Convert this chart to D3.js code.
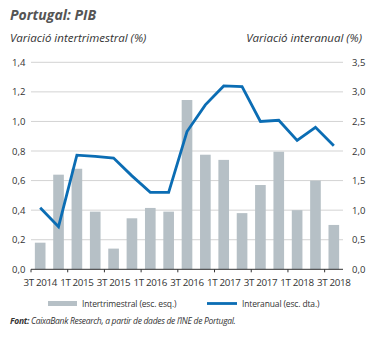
<!DOCTYPE html>
<html>
<head>
<meta charset="utf-8">
<script src="https://cdn.jsdelivr.net/npm/d3@7"></script>
<style>
  body { margin: 0; background: #fff; }
  svg text { font-family: "Open Sans", "Noto Sans", sans-serif; fill: #333; }
</style>
</head>
<body>
<div id="chart"></div>
<script>
// quarters on the x axis
const quarters = ["3T 2014", "4T 2014", "1T 2015", "2T 2015", "3T 2015", "4T 2015",
  "1T 2016", "2T 2016", "3T 2016", "4T 2016", "1T 2017", "2T 2017", "3T 2017",
  "4T 2017", "1T 2018", "2T 2018", "3T 2018"]
// bars, left axis
const intertrimestral = [0.18, 0.64, 0.68, 0.39, 0.14, 0.345, 0.415, 0.39, 1.145,
  0.775, 0.74, 0.38, 0.57, 0.795, 0.40, 0.60, 0.30]
// line, right axis
const interanual = [1.04, 0.72, 1.93, 1.91, 1.88, 1.58, 1.30, 1.30, 2.33,
  2.78, 3.10, 3.09, 2.50, 2.52, 2.18, 2.40, 2.09]
const leftTicks = [0, 0.2, 0.4, 0.6, 0.8, 1.0, 1.2, 1.4]
const rightTicks = [0, 0.5, 1.0, 1.5, 2.0, 2.5, 3.0, 3.5]
const labelled = ["3T 2014", "1T 2015", "3T 2015", "1T 2016", "3T 2016",
  "1T 2017", "3T 2017", "1T 2018", "3T 2018"]

const W = 379, H = 338
const plot = {left: 31, right: 343, top: 62.3, bottom: 269.3}

const svg = d3.select("#chart").append("svg")
  .attr("width", W).attr("height", H)

const fmt = v => v.toFixed(1).replace(".", ",")

const x = d3.scaleBand().domain(quarters)
  .range([plot.left, plot.right]).paddingInner(0.42).paddingOuter(0.21)
const yL = d3.scaleLinear().domain([0, 1.4]).range([plot.bottom, plot.top])
const yR = d3.scaleLinear().domain([0, 3.5]).range([plot.bottom, plot.top])

// title + axis titles
svg.append("text").attr("x", 10).attr("y", 20)
  .style("font-size", "14px").style("font-weight", "bold").style("font-style", "italic")
  .style("fill", "#555").text("Portugal: PIB")
svg.append("text").attr("x", 10).attr("y", 42)
  .style("font-size", "11.5px").style("font-style", "italic")
  .text("Variació intertrimestral (%)")
svg.append("text").attr("x", 362).attr("y", 42).attr("text-anchor", "end")
  .style("font-size", "11.5px").style("font-style", "italic")
  .text("Variació interanual (%)")

// gridlines
svg.append("g").selectAll("line").data(leftTicks.slice(1)).enter().append("line")
  .attr("x1", plot.left).attr("x2", plot.right)
  .attr("y1", d => yL(d)).attr("y2", d => yL(d))
  .style("stroke", "#d3d3d3").style("stroke-width", 1)

// left labels
svg.append("g").selectAll("text").data(leftTicks).enter().append("text")
  .attr("x", 12).attr("y", d => yL(d) + 3.5)
  .style("font-size", "9.5px").text(fmt)
// right labels
svg.append("g").selectAll("text").data(rightTicks).enter().append("text")
  .attr("x", 352).attr("y", d => yR(d) + 3.5)
  .style("font-size", "9.5px").text(fmt)

// bars
svg.append("g").selectAll("rect").data(intertrimestral).enter().append("rect")
  .attr("x", (d, i) => x(quarters[i]))
  .attr("width", x.bandwidth())
  .attr("y", d => yL(d))
  .attr("height", d => yL(0) - yL(d))
  .style("fill", "#b6c0c6")

// x axis
const xAxis = svg.append("g").attr("transform", `translate(0,${plot.bottom})`)
xAxis.append("line").attr("x1", plot.left).attr("x2", plot.right)
  .style("stroke", "#333").style("stroke-width", 1)
xAxis.selectAll(".tk").data(labelled).enter().append("line")
  .attr("x1", d => x(d) - x.step() * x.paddingInner() / 2)
  .attr("x2", d => x(d) - x.step() * x.paddingInner() / 2)
  .attr("y1", 0).attr("y2", 3)
  .style("stroke", "#333")
xAxis.selectAll("text").data(labelled).enter().append("text")
  .attr("x", d => x(d) + x.bandwidth() / 2).attr("y", 17)
  .attr("text-anchor", "middle")
  .style("font-size", "9.8px").style("letter-spacing", "-0.35px").text(d => d)

// line
const line = d3.line()
  .x((d, i) => x(quarters[i]) + x.bandwidth() / 2)
  .y(d => yR(d))
svg.append("path").datum(interanual)
  .attr("d", line)
  .style("fill", "none").style("stroke", "#0b6db4").style("stroke-width", 2.8)
  .style("stroke-linejoin", "miter")

// legend
svg.append("rect").attr("x", 48).attr("y", 301).attr("width", 29).attr("height", 5)
  .style("fill", "#b6c0c6")
svg.append("text").attr("x", 82).attr("y", 306.5)
  .style("font-size", "8.5px").style("letter-spacing", "-0.15px").text("Intertrimestral (esc. esq.)")
svg.append("line").attr("x1", 207).attr("x2", 237).attr("y1", 303.5).attr("y2", 303.5)
  .style("stroke", "#0b6db4").style("stroke-width", 2.8)
svg.append("text").attr("x", 242).attr("y", 306.5)
  .style("font-size", "8.5px").style("letter-spacing", "-0.15px").text("Interanual (esc. dta.)")

// source
const src = svg.append("text").attr("x", 10).attr("y", 324)
  .style("font-size", "8.5px").style("font-style", "italic").style("letter-spacing", "-0.3px")
src.append("tspan").style("font-weight", "bold").text("Font: ")
src.append("tspan").text("CaixaBank Research, a partir de dades de l’INE de Portugal.")
</script>
</body>
</html>
